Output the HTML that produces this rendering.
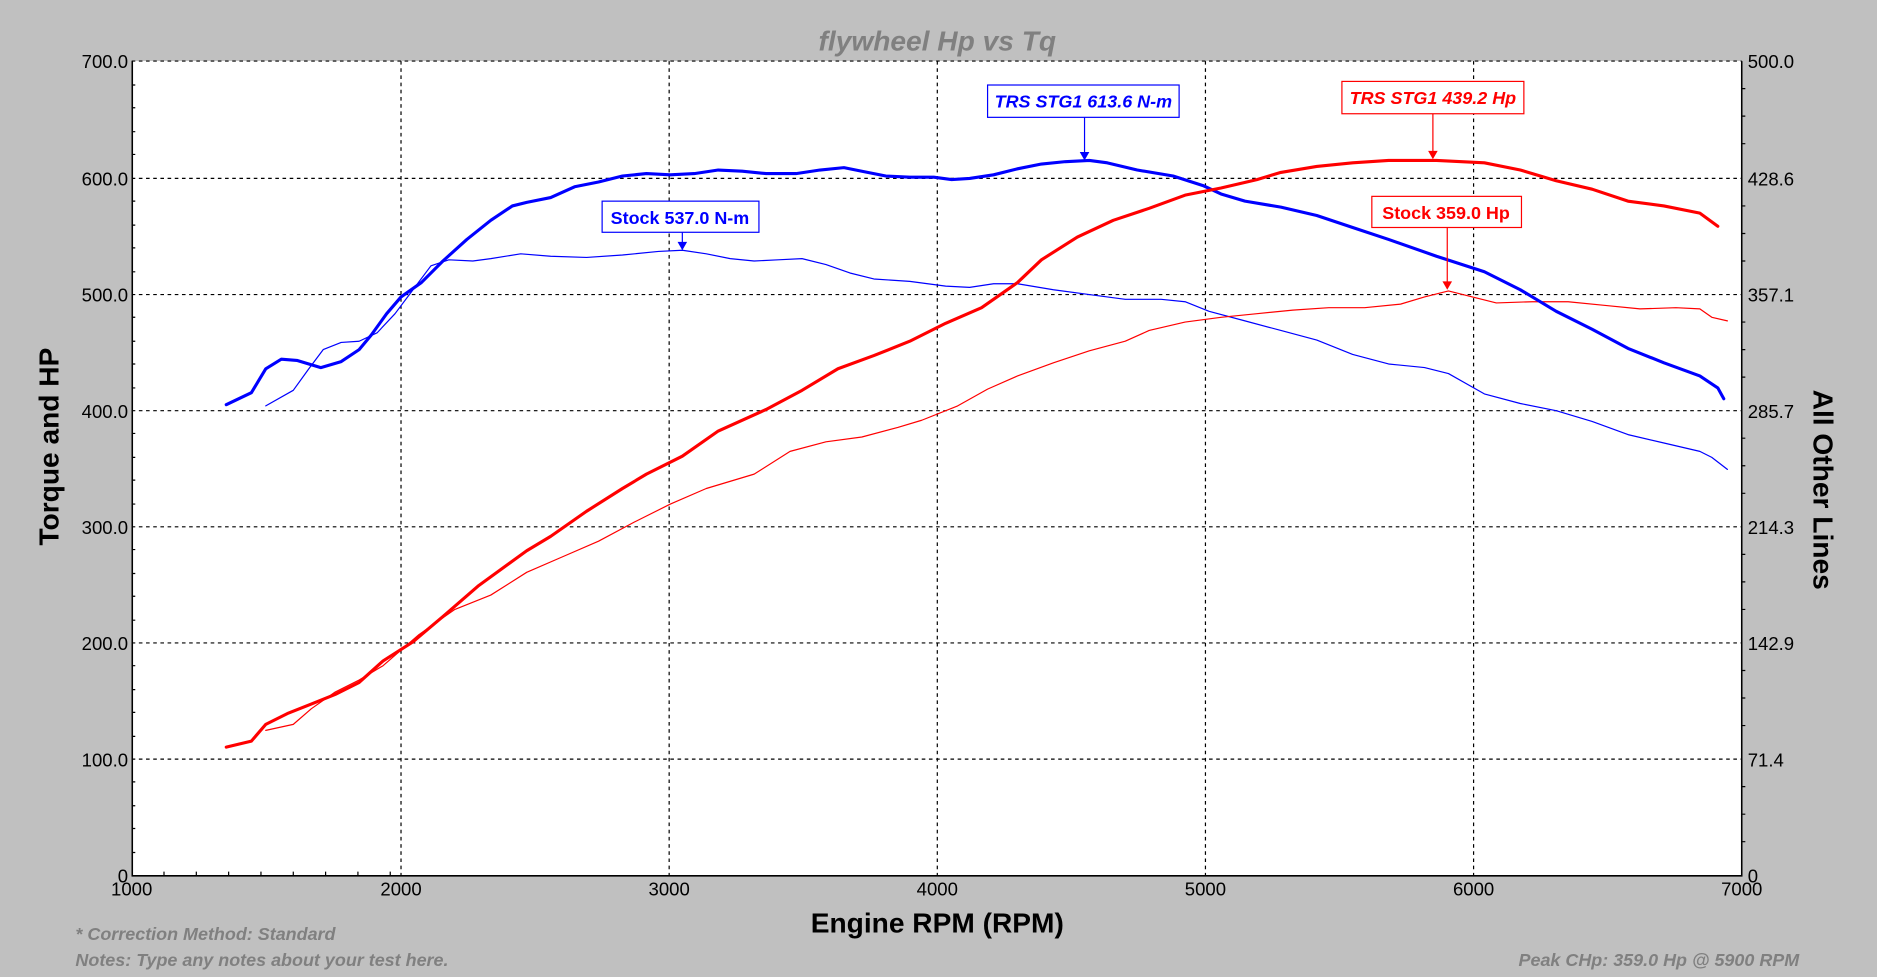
<!DOCTYPE html>
<html><head><meta charset="utf-8"><style>
html,body{margin:0;padding:0;background:#c0c0c0;}
svg{display:block;}
text{font-family:"Liberation Sans",Arial,sans-serif;}
</style></head><body>
<svg width="1877" height="977" viewBox="0 0 1568 816" preserveAspectRatio="none" xmlns="http://www.w3.org/2000/svg">
<rect width="1568" height="816" fill="#c0c0c0"/>
<rect x="110" y="51" width="1345" height="680" fill="#fff"/>
<g stroke="#000" stroke-width="1" stroke-dasharray="3,3" fill="none">
<path d="M335 51V731M559 51V731M783 51V731M1007 51V731M1231 51V731"/>
<path d="M110 51H1455M110 149H1455M110 246H1455M110 343H1455M110 440H1455M110 537H1455M110 634H1455"/>
</g>
<g stroke="#000" stroke-width="1.3" fill="none">
<path d="M110.5 51V731.5H1455V51"/>
</g>
<g stroke="#000" stroke-width="1">
<path d="M110 71h3M110 90h3M110 110h3M110 129h3M110 168h3M110 188h3M110 207h3M110 227h3M110 265h3M110 285h3M110 304h3M110 324h3M110 362h3M110 382h3M110 401h3M110 421h3M110 459h3M110 479h3M110 498h3M110 518h3M110 556h3M110 576h3M110 595h3M110 615h3M110 653h3M110 673h3M110 692h3M110 712h3"/>
<path d="M1455 74h3M1455 97h3M1455 120h3M1455 172h3M1455 195h3M1455 218h3M1455 269h3M1455 292h3M1455 315h3M1455 366h3M1455 389h3M1455 412h3M1455 463h3M1455 486h3M1455 509h3M1455 560h3M1455 583h3M1455 606h3M1455 657h3M1455 680h3M1455 703h3"/>
<path d="M137 731v-3M164 731v-3M191 731v-3M218 731v-3M245 731v-3M272 731v-3M299 731v-3M326 731v-3"/>
</g>
<g font-size="15.5" fill="#000" text-anchor="end">
<text x="107" y="57">700.0</text><text x="107" y="155">600.0</text><text x="107" y="252">500.0</text><text x="107" y="349">400.0</text><text x="107" y="446">300.0</text><text x="107" y="543">200.0</text><text x="107" y="640">100.0</text><text x="107" y="737">0</text>
</g>
<g font-size="15.5" fill="#000">
<text x="1460" y="57">500.0</text><text x="1460" y="155">428.6</text><text x="1460" y="252">357.1</text><text x="1460" y="349">285.7</text><text x="1460" y="446">214.3</text><text x="1460" y="543">142.9</text><text x="1460" y="640">71.4</text><text x="1460" y="737">0</text>
</g>
<g font-size="15.5" fill="#000" text-anchor="middle">
<text x="110" y="748">1000</text><text x="335" y="748">2000</text><text x="559" y="748">3000</text><text x="783" y="748">4000</text><text x="1007" y="748">5000</text><text x="1231" y="748">6000</text><text x="1455" y="748">7000</text>
</g>
<text x="783" y="42" font-size="23.5" font-weight="bold" font-style="italic" fill="#808080" text-anchor="middle">flywheel Hp vs Tq</text>
<text x="783" y="779" font-size="23.5" font-weight="bold" fill="#000" text-anchor="middle">Engine RPM (RPM)</text>
<text transform="translate(49,373) rotate(-90)" font-size="23.5" font-weight="bold" fill="#000" text-anchor="middle">Torque and HP</text>
<text transform="translate(1515,409) rotate(90)" font-size="23.5" font-weight="bold" fill="#000" text-anchor="middle">All Other Lines</text>
<g font-size="15" font-weight="bold" font-style="italic" fill="#808080">
<text x="63" y="785">* Correction Method: Standard</text>
<text x="63" y="807">Notes: Type any notes about your test here.</text>
<text x="1503" y="807" text-anchor="end">Peak CHp: 359.0 Hp @ 5900 RPM</text>
</g>
<g fill="none" stroke-linejoin="round" stroke-linecap="round">
<polyline stroke="#0000ff" stroke-width="1" points="222,339 245,326 258,308 270,292 285,286 300,285 315,278 330,262 345,242 360,222 375,217 395,218 410,216 435,212 460,214 490,215 520,213 550,210 570,209 590,212 610,216 630,218 650,217 670,216 690,221 710,228 730,233 760,235 790,239 810,240 830,237 850,237 880,242 910,246 940,250 970,250 990,252 1010,260 1040,268 1070,276 1100,284 1130,296 1160,304 1190,307 1210,312 1240,329 1270,337 1300,343 1330,352 1360,363 1390,370 1420,377 1430,382 1443,392"/>
<polyline stroke="#ff0000" stroke-width="1" points="222,610 245,605 260,592 280,578 300,568 320,556 350,530 380,509 410,497 440,478 470,465 500,452 530,436 560,421 590,408 630,396 660,377 690,369 720,365 750,357 770,351 800,339 825,325 850,314 880,303 910,293 940,285 960,276 990,269 1020,265 1050,262 1080,259 1110,257 1140,257 1170,254 1190,248 1210,243 1230,248 1250,253 1280,252 1310,252 1340,255 1370,258 1400,257 1420,258 1430,265 1443,268"/>
<polyline stroke="#0000ff" stroke-width="2.6" points="189,338 210,328 222,308 235,300 248,301 268,307 285,302 300,292 310,280 323,262 335,248 352,236 370,218 390,200 410,184 428,172 440,169 460,165 480,156 500,152 520,147 540,145 560,146 580,145 600,142 620,143 640,145 665,145 685,142 705,140 720,143 740,147 760,148 780,148 795,150 810,149 830,146 850,141 870,137 890,135 910,134 925,136 950,142 980,147 1005,155 1020,162 1040,168 1070,173 1100,180 1130,190 1160,200 1200,214 1240,227 1270,242 1300,260 1330,275 1360,291 1390,303 1420,314 1435,324 1440,333"/>
<polyline stroke="#ff0000" stroke-width="2.6" points="189,624 210,619 222,605 240,596 260,588 280,580 300,570 320,552 345,536 370,515 400,489 440,460 460,448 490,427 520,408 540,396 570,381 600,360 640,342 670,326 700,308 730,297 760,285 790,270 820,257 850,236 870,217 900,198 930,184 960,174 990,163 1020,157 1050,150 1070,144 1100,139 1130,136 1160,134 1200,134 1240,136 1270,142 1300,151 1330,158 1360,168 1390,172 1420,178 1435,189"/>
</g>
<g font-size="15" font-weight="bold">
<rect x="825" y="71" width="160" height="27" fill="#fff" stroke="#0000ff"/>
<path d="M906 98V132" stroke="#0000ff"/><path d="M902 127L906 134L910 127Z" fill="#0000ff"/>
<text x="905" y="90" fill="#0000ff" font-style="italic" text-anchor="middle">TRS STG1 613.6 N-m</text>
<rect x="503" y="168" width="131" height="26" fill="#fff" stroke="#0000ff"/>
<path d="M570 194V207" stroke="#0000ff"/><path d="M566 202L570 209L574 202Z" fill="#0000ff"/>
<text x="568" y="187" fill="#0000ff" text-anchor="middle">Stock 537.0 N-m</text>
<rect x="1121" y="68" width="152" height="27" fill="#fff" stroke="#ff0000"/>
<path d="M1197 95V131" stroke="#ff0000"/><path d="M1193 126L1197 133L1201 126Z" fill="#ff0000"/>
<text x="1197" y="87" fill="#ff0000" font-style="italic" text-anchor="middle">TRS STG1 439.2 Hp</text>
<rect x="1146" y="164" width="125" height="26" fill="#fff" stroke="#ff0000"/>
<path d="M1209 190V240" stroke="#ff0000"/><path d="M1205 235L1209 242L1213 235Z" fill="#ff0000"/>
<text x="1208" y="183" fill="#ff0000" text-anchor="middle">Stock 359.0 Hp</text>
</g>
</svg>
</body></html>
